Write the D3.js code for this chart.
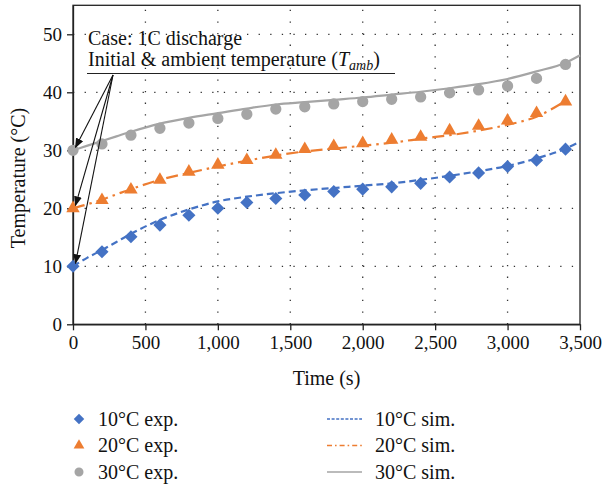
<!DOCTYPE html>
<html lang="en">
<head>
    <meta charset="utf-8">
    <title>Temperature vs time</title>
    <script src="https://cdn.jsdelivr.net/npm/d3@7"></script>
    <style>
        body{ margin:0; background:#fff; }
        text{ font-family:"Liberation Serif","DejaVu Serif",serif; fill:#111; }
    </style>
</head>
<body>
<div id="chart"></div>
<script>
    // experiment points, every 200 s
    var expTime = [0,200,400,600,800,1000,1200,1400,1600,1800,2000,2200,2400,2600,2800,3000,3200,3400];
    var exp10 = [10,12.5,15.1,17.1,18.8,20.0,21.0,21.7,22.3,22.9,23.3,23.7,24.3,25.4,26.1,27.2,28.3,30.2];
    var exp20 = [20,21.4,23.2,24.9,26.3,27.5,28.3,29.2,30.2,30.7,31.2,31.8,32.3,33.4,34.2,35.1,36.4,38.4];
    var exp30 = [30,31.1,32.6,33.8,34.7,35.5,36.2,37.1,37.5,38.0,38.4,38.8,39.2,39.9,40.4,41.1,42.4,44.8];

    // simulation curves
    var simTime = [0,100,200,300,400,600,800,1000,1200,1400,1600,1800,2000,2200,2400,2600,2800,3000,3200,3400,3500];
    var sim10 = [10,11.5,12.8,14.2,15.6,18.0,19.8,21.2,22.0,22.6,23.1,23.5,23.9,24.3,24.9,25.6,26.4,27.3,28.6,30.3,31.5];
    var sim20 = [20,20.7,21.5,22.4,23.3,24.9,26.1,27.2,28.2,29.1,29.8,30.3,30.8,31.3,32.0,32.6,33.4,34.4,35.8,38.5]; // stops at 3400
    var sim30 = [30,30.8,31.6,32.4,33.2,34.6,35.6,36.4,37.2,37.9,38.3,38.7,39.1,39.6,40.1,40.7,41.4,42.3,43.6,45.1,46.4];

    var xTicks = [0,500,1000,1500,2000,2500,3000,3500];
    var yTicks = [0,10,20,30,40,50];

    var width = 607, height = 485;
    var x0 = 73, x1 = 580, y0 = 324.3, y1 = 5.3;

    var svg = d3.select('#chart').append('svg')
        .attr('width', width).attr('height', height);

    var x = d3.scaleLinear().domain([0,3500]).range([x0,x1]);
    var y = d3.scaleLinear().domain([0,55]).range([y0,y1]);

    // dotted grid
    var grid = svg.append('g').attr('stroke','#333').attr('stroke-width',1.3).attr('stroke-dasharray','1.3,10.3');
    grid.selectAll('.gx').data(xTicks.slice(1,-1)).enter().append('line')
        .attr('x1',d => x(d)).attr('x2',d => x(d)).attr('y1',y0).attr('y2',y1);
    grid.selectAll('.gy').data(yTicks.slice(1)).enter().append('line')
        .attr('x1',x0).attr('x2',x1).attr('y1',d => y(d)).attr('y2',d => y(d));

    // frame
    svg.append('rect').attr('x',x0).attr('y',y1).attr('width',x1-x0).attr('height',y0-y1)
        .attr('fill','none').attr('stroke','#222').attr('stroke-width',1.3);

    var fmt = d3.format(',');
    var xAxis = svg.append('g').attr('transform','translate(0,'+y0+')')
        .call(d3.axisBottom(x).tickValues(xTicks).tickFormat(fmt).tickSize(6).tickSizeOuter(0));
    var yAxis = svg.append('g').attr('transform','translate('+x0+',0)')
        .call(d3.axisLeft(y).tickValues(yTicks).tickSize(6).tickSizeOuter(0));
    [xAxis, yAxis].forEach(function (g) {
        g.select('.domain').attr('stroke','#222').attr('stroke-width',1.3);
        g.selectAll('.tick line').attr('stroke','#222').attr('stroke-width',1.3);
        g.selectAll('text').attr('font-size',19).attr('font-family','Liberation Serif').attr('fill','#111');
    });
    xAxis.selectAll('text').attr('dy','0.85em').attr('y',9);
    yAxis.selectAll('text').attr('x',-11).attr('dy','0.34em');

    svg.append('text').attr('x',(x0+x1)/2).attr('y',385).attr('text-anchor','middle')
        .attr('font-size',20).text('Time (s)');
    svg.append('text').attr('transform','translate(25,178) rotate(-90)').attr('text-anchor','middle')
        .attr('font-size',20).text('Temperature (°C)');

    var series = [
        {exp: exp10, sim: sim10, color: '#4472C4', shape: 'diamond', dash: '7,4', legDash: '3,1.6', name: '10°C'},
        {exp: exp20, sim: sim20, color: '#ED7D31', shape: 'triangle', dash: '12,5,2.5,5', legDash: '5,3,1.6,3', name: '20°C'},
        {exp: exp30, sim: sim30, color: '#A5A5A5', shape: 'circle', dash: null, legDash: null, name: '30°C'}
    ];

    function symbolPath(shape) {
        if (shape === 'diamond') return d3.symbol(d3.symbolSquare, 86)();
        if (shape === 'triangle') return d3.symbol(d3.symbolTriangle, 78)();
        return d3.symbol(d3.symbolCircle, 100)();
    }
    function symbolTransform(shape, px, py) {
        return 'translate('+px+','+py+')' + (shape === 'diamond' ? ' rotate(45)' : '');
    }

    var line = d3.line().x(d => x(d[0])).y(d => y(d[1])).curve(d3.curveMonotoneX);

    // markers first, sim lines on top
    series.forEach(function (s) {
        svg.append('g').selectAll('path').data(d3.zip(expTime, s.exp)).enter().append('path')
            .attr('d', symbolPath(s.shape))
            .attr('transform', d => symbolTransform(s.shape, x(d[0]), y(d[1])))
            .attr('fill', s.color);
    });
    series.forEach(function (s) {
        svg.append('path').datum(d3.zip(simTime, s.sim))
            .attr('d', line).attr('fill','none').attr('stroke', s.color)
            .attr('stroke-width', 2.2).attr('stroke-dasharray', s.dash);
    });

    // annotation
    var ann = svg.append('g');
    ann.append('text').attr('x',88).attr('y',45).attr('font-size',20).text('Case: 1C discharge');
    var t2 = ann.append('text').attr('x',88).attr('y',66).attr('font-size',20);
    t2.append('tspan').text('Initial & ambient temperature (');
    t2.append('tspan').attr('font-style','italic').text('T');
    t2.append('tspan').attr('font-style','italic').attr('font-size',14).attr('dy',4).text('amb');
    t2.append('tspan').attr('dy',-4).text(')');
    ann.append('line').attr('x1',87).attr('x2',395).attr('y1',73.5).attr('y2',73.5)
        .attr('stroke','#222').attr('stroke-width',1.2);

    svg.append('defs').append('marker').attr('id','arrow')
        .attr('viewBox','0 0 10 10').attr('refX',9).attr('refY',5)
        .attr('markerWidth',9).attr('markerHeight',9).attr('orient','auto')
        .append('path').attr('d','M0,1L10,5L0,9Z').attr('fill','#111');
    ann.selectAll('.arr').data([30,20,10]).enter().append('line')
        .attr('x1',113).attr('y1',75)
        .attr('x2',x(0)+2.5).attr('y2',d => y(d)-3)
        .attr('stroke','#111').attr('stroke-width',1.1)
        .attr('marker-end','url(#arrow)');

    // legend
    var leg = svg.append('g');
    series.forEach(function (s, i) {
        var ry = 419 + i*26.5;
        leg.append('path').attr('d', symbolPath(s.shape))
            .attr('transform', symbolTransform(s.shape, 79, ry) + ' scale(0.8)')
            .attr('fill', s.color);
        leg.append('text').attr('x',98).attr('y',ry+6.5).attr('font-size',20).text(s.name+' exp.');
        leg.append('line').attr('x1',327).attr('x2',362).attr('y1',ry).attr('y2',ry)
            .attr('stroke', s.color).attr('stroke-width',1.3).attr('stroke-dasharray', s.legDash);
        leg.append('text').attr('x',375).attr('y',ry+6.5).attr('font-size',20).text(s.name+' sim.');
    });
</script>
</body>
</html>
